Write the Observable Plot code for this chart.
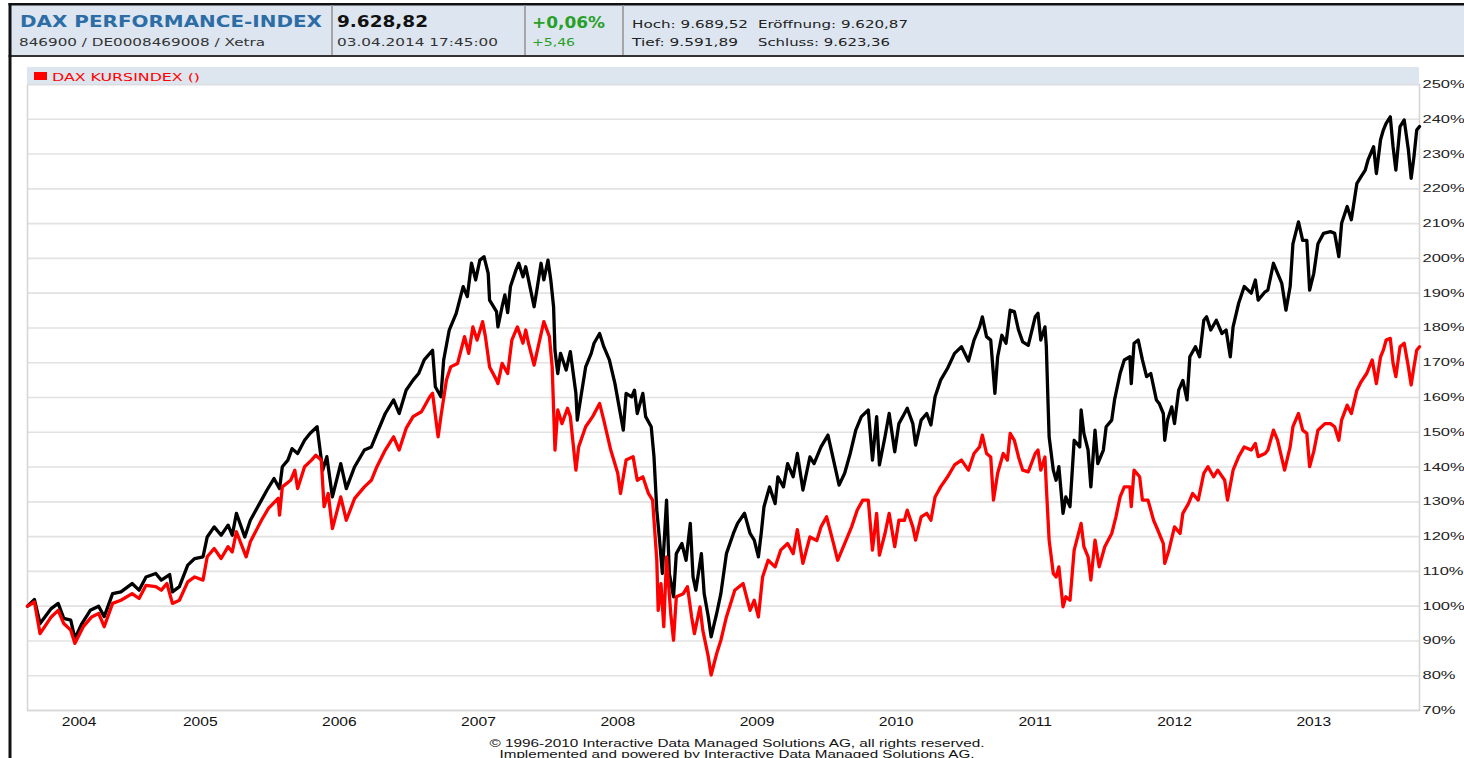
<!DOCTYPE html>
<html>
<head>
<meta charset="utf-8">
<script src="https://cdn.jsdelivr.net/npm/d3@7"></script>
<script src="https://cdn.jsdelivr.net/npm/@observablehq/plot@0.6"></script>
<style>
  html, body { margin: 0; padding: 0; background: #fff; }
  #page { position: relative; width: 1464px; height: 758px; overflow: hidden; background: #fff; }
  #chart { position: absolute; left: 0; top: 58px; }
  #overlay { position: absolute; left: 0; top: 0; pointer-events: none; }
</style>
</head>
<body>
<div id="page">
  <div id="chart"></div>
</div>
<script>
// ---------- data (decimal year, % of start value) ----------
const perfDates = [2004.26,2004.31,2004.35,2004.43,2004.48,2004.52,2004.57,2004.60,2004.65,2004.71,2004.77,2004.81,2004.87,2004.93,2005.01,2005.06,2005.11,2005.18,2005.22,2005.28,2005.30,2005.35,2005.41,2005.46,2005.52,2005.55,2005.60,2005.65,2005.70,2005.73,2005.76,2005.82,2005.86,2005.94,2005.98,2006.03,2006.07,2006.09,2006.13,2006.16,2006.20,2006.25,2006.29,2006.34,2006.38,2006.41,2006.45,2006.51,2006.55,2006.61,2006.68,2006.73,2006.77,2006.83,2006.89,2006.93,2006.98,2007.03,2007.07,2007.11,2007.17,2007.19,2007.23,2007.25,2007.29,2007.34,2007.39,2007.42,2007.45,2007.48,2007.51,2007.54,2007.57,2007.58,2007.63,2007.64,2007.67,2007.69,2007.71,2007.73,2007.77,2007.79,2007.82,2007.84,2007.86,2007.90,2007.92,2007.95,2007.97,2008.00,2008.02,2008.04,2008.05,2008.07,2008.09,2008.13,2008.16,2008.20,2008.21,2008.24,2008.27,2008.31,2008.33,2008.37,2008.40,2008.44,2008.48,2008.51,2008.54,2008.56,2008.60,2008.62,2008.64,2008.68,2008.70,2008.74,2008.76,2008.78,2008.80,2008.82,2008.85,2008.87,2008.90,2008.92,2008.96,2008.99,2009.02,2009.04,2009.06,2009.10,2009.12,2009.15,2009.17,2009.21,2009.24,2009.28,2009.33,2009.36,2009.41,2009.45,2009.48,2009.51,2009.53,2009.55,2009.59,2009.63,2009.65,2009.69,2009.72,2009.76,2009.79,2009.83,2009.88,2009.91,2009.96,2010.01,2010.05,2010.09,2010.13,2010.17,2010.21,2010.25,2010.30,2010.33,2010.36,2010.38,2010.42,2010.45,2010.49,2010.52,2010.56,2010.58,2010.62,2010.64,2010.68,2010.72,2010.75,2010.78,2010.82,2010.87,2010.92,2010.97,2011.02,2011.06,2011.10,2011.12,2011.15,2011.18,2011.21,2011.23,2011.26,2011.29,2011.32,2011.35,2011.38,2011.41,2011.45,2011.50,2011.52,2011.54,2011.57,2011.58,2011.59,2011.60,2011.63,2011.65,2011.67,2011.70,2011.72,2011.75,2011.78,2011.82,2011.83,2011.85,2011.88,2011.90,2011.93,2011.95,2011.99,2012.01,2012.05,2012.07,2012.11,2012.14,2012.18,2012.19,2012.21,2012.24,2012.27,2012.30,2012.33,2012.37,2012.39,2012.42,2012.43,2012.45,2012.48,2012.50,2012.53,2012.56,2012.59,2012.61,2012.65,2012.68,2012.71,2012.73,2012.76,2012.80,2012.84,2012.87,2012.90,2012.92,2012.96,2013.00,2013.05,2013.08,2013.10,2013.15,2013.17,2013.21,2013.24,2013.27,2013.30,2013.33,2013.35,2013.39,2013.42,2013.45,2013.47,2013.50,2013.53,2013.57,2013.62,2013.65,2013.68,2013.70,2013.74,2013.77,2013.81,2013.84,2013.87,2013.89,2013.93,2013.95,2013.98,2014.00,2014.02,2014.05,2014.07,2014.09,2014.12,2014.15,2014.18,2014.20,2014.22,2014.24,2014.26];
const perfValues = [100,101.9,95,99.3,100.8,96.5,96,90.7,95,98.8,100,97,103.6,104.1,106.5,104.6,108.4,109.4,107.5,109.1,104.1,105.6,111.8,113.7,114.2,119.9,122.8,120.4,123.3,120.4,126.7,119.9,124.7,130.5,133.4,136.7,133.8,140.1,142,145.3,143.9,147.7,149.7,151.6,139.1,143,131.4,141,133.8,140.1,144.9,145.8,149.7,155.4,159.3,155.4,162.1,165,166.9,170.8,173.6,163.1,160.2,170.8,179.4,184.2,191.9,189,198.6,193.8,199.5,200.5,195.7,188,184.7,180.3,186.1,189.5,184.4,191.9,196.7,198.6,194.7,197.6,193.8,186.1,190.9,198.6,193.8,199.5,193.8,186.1,173.6,166.9,172.7,167.9,173.2,161.2,153.5,161.2,168.8,172.7,175.6,178.4,174.6,170.8,164,157.3,150.6,161.2,160.2,162.1,155.4,161.2,154.5,151.6,142.9,127.6,119,109.4,130.5,109.4,102.7,115.1,118,113.2,123.8,108.4,104.6,115.1,103.6,96.9,91.2,97.9,103.6,115.1,120.9,123.8,126.7,120.9,119,114.2,120.9,128.6,134.3,129.5,137.2,134.3,141,137.2,143.9,133.4,142.9,141,145.8,149.2,142,134.8,138.2,143.9,150.6,154.5,156.4,142,154.5,140.6,148.7,155.4,144.4,152.5,155.4,156.9,152.5,146.3,153.5,155.4,152.1,160.2,165,168.4,172.7,174.6,170.5,176.5,180.3,183.2,177.5,176.5,161.2,171.7,177.9,175.6,185.1,184.7,179.4,176,175,183.2,184.2,176.5,180.3,174.6,161.2,148.7,139.1,136.2,140.1,126.7,131.4,128.6,147.7,145.8,156.4,149.7,144.9,134.3,150.6,141,144.9,151.6,153.5,159.3,166.9,170.8,171.7,164,175.6,176.5,170.8,166,166.9,159.3,158.3,155.4,147.7,153.5,157.3,152.5,162.1,164.9,159.3,171.7,174.6,171.7,182.2,183.2,179.4,182.2,178.4,179.4,171.7,180.3,187.1,191.9,190,193.8,188,190.4,190.9,198.6,195.7,192.8,185.1,191.9,204.2,210.5,205.2,205.2,190.9,195.7,204.2,207.2,207.7,207.2,200.5,210.1,214.9,211.1,221.6,223.5,225.4,228.3,232.1,224.4,234.1,236.9,238.8,240.7,232.1,225.4,237.9,239.8,231.2,223,229.2,236.9,237.9];

const kursDates = [2004.26,2004.31,2004.35,2004.43,2004.48,2004.52,2004.57,2004.60,2004.66,2004.72,2004.77,2004.81,2004.87,2004.93,2005.01,2005.06,2005.11,2005.18,2005.22,2005.26,2005.30,2005.35,2005.41,2005.46,2005.52,2005.55,2005.60,2005.65,2005.70,2005.73,2005.76,2005.83,2005.86,2005.94,2005.99,2006.06,2006.07,2006.09,2006.15,2006.18,2006.20,2006.25,2006.30,2006.33,2006.37,2006.39,2006.42,2006.45,2006.51,2006.55,2006.61,2006.68,2006.73,2006.77,2006.83,2006.89,2006.93,2006.98,2007.03,2007.09,2007.15,2007.17,2007.21,2007.23,2007.27,2007.30,2007.35,2007.40,2007.43,2007.46,2007.49,2007.53,2007.55,2007.58,2007.63,2007.64,2007.67,2007.71,2007.74,2007.78,2007.82,2007.84,2007.86,2007.90,2007.94,2007.97,2008.01,2008.03,2008.05,2008.07,2008.10,2008.14,2008.16,2008.20,2008.22,2008.27,2008.32,2008.37,2008.40,2008.45,2008.50,2008.52,2008.56,2008.61,2008.64,2008.68,2008.72,2008.75,2008.78,2008.79,2008.81,2008.83,2008.85,2008.88,2008.90,2008.92,2008.97,2009.00,2009.03,2009.05,2009.09,2009.11,2009.15,2009.17,2009.21,2009.24,2009.28,2009.34,2009.40,2009.45,2009.48,2009.51,2009.54,2009.58,2009.63,2009.67,2009.72,2009.76,2009.79,2009.83,2009.88,2009.93,2009.96,2010.00,2010.05,2010.08,2010.13,2010.18,2010.22,2010.26,2010.30,2010.33,2010.36,2010.38,2010.42,2010.45,2010.49,2010.52,2010.56,2010.58,2010.62,2010.64,2010.68,2010.72,2010.75,2010.78,2010.82,2010.87,2010.92,2010.97,2011.02,2011.06,2011.10,2011.12,2011.15,2011.18,2011.20,2011.23,2011.27,2011.30,2011.32,2011.35,2011.38,2011.41,2011.45,2011.50,2011.52,2011.54,2011.57,2011.58,2011.60,2011.63,2011.65,2011.67,2011.70,2011.72,2011.75,2011.78,2011.83,2011.85,2011.88,2011.90,2011.93,2011.96,2012.00,2012.05,2012.08,2012.11,2012.14,2012.18,2012.19,2012.21,2012.25,2012.27,2012.31,2012.35,2012.38,2012.42,2012.43,2012.46,2012.50,2012.54,2012.56,2012.60,2012.63,2012.67,2012.71,2012.74,2012.78,2012.81,2012.86,2012.88,2012.92,2012.96,2013.00,2013.05,2013.08,2013.10,2013.15,2013.17,2013.21,2013.24,2013.29,2013.33,2013.35,2013.39,2013.42,2013.45,2013.47,2013.50,2013.53,2013.58,2013.62,2013.65,2013.68,2013.70,2013.74,2013.77,2013.81,2013.84,2013.88,2013.92,2013.95,2013.98,2014.00,2014.02,2014.05,2014.07,2014.09,2014.12,2014.15,2014.18,2014.20,2014.22,2014.24,2014.26];
const kursValues = [100,101.2,92.1,96.9,98.8,95,93.1,89.3,94.1,96.9,97.9,94.1,100.8,101.7,103.6,102.2,106,105.6,104.6,106.5,100.8,101.7,107,108.4,107.5,114.2,116.6,113.7,117.1,115.6,121.4,114.2,118.5,124.7,128.1,131,126.2,134.3,136.2,139.1,133.8,140.1,142,143.4,142,128.6,132.4,122.3,131.4,124.7,131,134.3,136.2,140.1,144.9,148.7,144.9,151.1,154.5,155.9,160.2,161.2,148.7,154.5,165,168.8,169.8,177.5,172.7,180.3,176.5,181.8,177.5,168.8,165,164,169.8,166.9,176.5,180.3,175.6,179.4,175.6,169.3,176.5,181.8,177.5,168.8,144.9,156.4,152.5,156.9,154.5,139.1,145.8,151.6,154.5,158.3,153.5,144.9,138.2,132.4,142,143,136.2,137.2,132.4,130.5,113.2,98.8,106.5,94.1,114.2,97.9,90.2,102.7,103.6,105.6,96.9,92.1,99.8,93.1,85.4,80.2,86.4,90.2,96.9,104.6,106.5,98.8,101.7,96.9,108.4,113.2,111.3,116.1,118,115.1,122,112.3,119.9,118.9,122.8,125.7,118,113.2,118,122.8,127.6,130.5,130.5,116.1,126.7,114.7,120.9,126.7,117.1,124.7,124.7,127.6,122.8,119,125.7,126.7,124.7,131.4,134.3,137.2,140.6,142,139.1,143.9,145.8,149.2,143.9,142.9,130.5,138.2,143.9,142,149.7,147.7,142.9,139.1,138.6,143.9,144.9,139.1,142.9,134.3,119,109.4,108.4,111.3,99.8,102.7,101.7,116.1,123.8,117.1,114.2,107.5,119,111.3,117.1,120.9,125.7,131.4,134.3,134.3,128.6,139.1,137.2,130.5,130.5,124.7,121.9,118,112.3,116.1,122.8,120.9,126.7,129.5,132.4,130.5,138.2,140.1,137.2,139.1,136.2,130.5,139.1,143,145.8,144.9,146.8,143,143.9,144.9,150.6,147.7,139.1,145.8,151.6,155.4,150.6,149.7,140.1,144.5,150.6,152.5,152.5,151.6,147.7,153.5,157.8,155.4,162.1,164.5,166.9,170.8,164,171.7,173.6,176.5,177,169.8,166,174.6,175.6,168.8,163.6,168.8,173.6,174.6];

const yTicks = [70,80,90,100,110,120,130,140,150,160,170,180,190,200,210,220,230,240,250];
const tickYears = [2004,2005,2006,2007,2008,2009,2010,2011,2012,2013];
const rangeStart = 2004.26, rangeEnd = 2014.26;

const header = {
  title: "DAX PERFORMANCE-INDEX",
  ids: "846900 / DE0008469008 / Xetra",
  last: "9.628,82",
  time: "03.04.2014 17:45:00",
  pct: "+0,06%",
  abs: "+5,46",
  hoch: "Hoch: 9.689,52",
  tief: "Tief: 9.591,89",
  open: "Eröffnung: 9.620,87",
  close: "Schluss: 9.623,36"
};
const legendLabel = "DAX KURSINDEX ()";
const footerLines = ["© 1996-2010 Interactive Data Managed Solutions AG, all rights reserved.",
                     "Implemented and powered by Interactive Data Managed Solutions AG."];

// ---------- helpers ----------
function decToDate(t) {
  const y = Math.floor(t);
  const a = Date.UTC(y, 0, 1), b = Date.UTC(y + 1, 0, 1);
  return new Date(a + (t - y) * (b - a));
}
const perf = perfDates.map((t, i) => ({date: decToDate(t), value: perfValues[i]}));
const kurs = kursDates.map((t, i) => ({date: decToDate(t), value: kursValues[i]}));
const d0 = decToDate(rangeStart), d1 = decToDate(rangeEnd);
const tickDates = tickYears.map(y => {
  const a = Math.max(+d0, Date.UTC(y, 0, 1));
  const b = Math.min(+d1, Date.UTC(y + 1, 0, 1));
  return new Date((a + b) / 2);
});

// ---------- chart ----------
const chart = Plot.plot({
  width: 1464,
  height: 700,
  marginLeft: 27,
  marginRight: 45,
  marginTop: 26,
  marginBottom: 48,
  x: {type: "utc", domain: [d0, d1], label: null},
  y: {domain: [70, 250], label: null},
  style: {fontFamily: "'Liberation Sans', Arial, sans-serif", fontSize: "11px", color: "#222", background: "transparent", overflow: "visible"},
  marks: [
    Plot.gridY(yTicks, {stroke: "#e2e2e2", strokeOpacity: 1, strokeWidth: 1.6}),
    Plot.frame({stroke: "#d6d6d6", strokeWidth: 1.6}),
    Plot.axisY(yTicks, {anchor: "right", label: null, tickSize: 0, tickPadding: 3, tickFormat: d => d + "%", fontSize: 11, fill: "#222"}),
    Plot.axisX(tickDates, {anchor: "bottom", label: null, tickSize: 0, tickPadding: 7, tickFormat: d => String(d.getUTCFullYear()), fontSize: 12, fill: "#111"}),
    Plot.line(perf, {x: "date", y: "value", stroke: "#000", strokeWidth: 3.3}),
    Plot.line(kurs, {x: "date", y: "value", stroke: "#ff0000", strokeWidth: 3.3})
  ]
});
document.getElementById("chart").appendChild(chart);

// horizontally stretch axis labels to match the reference's wide lettering
function stretch(sel, k) {
  chart.querySelectorAll(sel).forEach(t => {
    const w = t.getComputedTextLength();
    if (w > 0) { t.setAttribute("textLength", (w * k).toFixed(1)); t.setAttribute("lengthAdjust", "spacingAndGlyphs"); }
  });
}
stretch('g[aria-label="y-axis tick label"] text', 1.5);
stretch('g[aria-label="x-axis tick label"] text', 1.3);

// ---------- overlay: header, legend bar, footer ----------
const svg = d3.select("#page").append("svg")
  .attr("id", "overlay").attr("width", 1464).attr("height", 758);

svg.append("rect").attr("x", 10).attr("y", 4).attr("width", 1454).attr("height", 52).attr("fill", "#dde6f0");
svg.append("rect").attr("x", 8.5).attr("y", 3).attr("width", 1456).attr("height", 2.5).attr("fill", "#111");
svg.append("rect").attr("x", 8.5).attr("y", 55).attr("width", 1456).attr("height", 2).attr("fill", "#333");
svg.append("rect").attr("x", 8.5).attr("y", 3).attr("width", 3).attr("height", 755).attr("fill", "#111");
[331, 524, 622].forEach(x =>
  svg.append("rect").attr("x", x).attr("y", 5.5).attr("width", 2).attr("height", 49.5).attr("fill", "#a6a6a6"));

function txt(x, y, s, o) {
  const t = svg.append("text").attr("x", x).attr("y", y).text(s)
    .attr("font-family", o.family || "'DejaVu Sans', Verdana, sans-serif")
    .attr("font-size", o.size).attr("font-weight", o.weight || "normal")
    .attr("fill", o.fill || "#222").attr("text-anchor", o.anchor || "start");
  if (o.len) t.attr("textLength", o.len).attr("lengthAdjust", "spacingAndGlyphs");
  return t;
}
txt(20, 27, header.title, {size: 15, weight: "bold", fill: "#2d6da6", len: 302});
txt(19, 45.5, header.ids, {size: 10.5, fill: "#333", len: 246});
txt(337, 27, header.last, {size: 15, weight: "bold", fill: "#111", len: 91});
txt(337, 45.5, header.time, {size: 10.5, fill: "#333", len: 161});
txt(532, 27.5, header.pct, {size: 15, weight: "bold", fill: "#28a028", len: 73});
txt(532, 45.5, header.abs, {size: 10.5, fill: "#28a028", len: 43});
txt(632, 28.3, header.hoch, {size: 10.5, fill: "#222", len: 116});
txt(758, 28.3, header.open, {size: 10.5, fill: "#222", len: 150});
txt(632, 45.7, header.tief, {size: 10.5, fill: "#222", len: 106});
txt(758, 45.7, header.close, {size: 10.5, fill: "#222", len: 132});

// legend bar
svg.append("rect").attr("x", 27).attr("y", 67).attr("width", 1392).attr("height", 17.5).attr("fill", "#dde5ee");
svg.append("rect").attr("x", 34).attr("y", 72).attr("width", 13).attr("height", 8).attr("fill", "#ff0000");
txt(52, 81, legendLabel, {size: 11, fill: "#ff0000", len: 148});

// footer
txt(737, 747, footerLines[0], {size: 10.5, fill: "#111", family: "'Liberation Sans', Arial, sans-serif", anchor: "middle", len: 495});
txt(737, 757.5, footerLines[1], {size: 10.5, fill: "#111", family: "'Liberation Sans', Arial, sans-serif", anchor: "middle", len: 475});
</script>
</body>
</html>
